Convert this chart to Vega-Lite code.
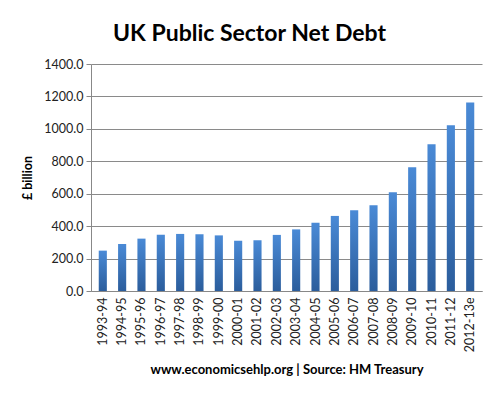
{
  "$schema": "https://vega.github.io/schema/vega-lite/v6.json",
  "width": 391,
  "height": 227,
  "autosize": {"type": "none"},
  "padding": {"left": 91, "top": 64, "right": 18, "bottom": 104},
  "background": "white",
  "title": {
    "text": "UK Public Sector Net Debt",
    "font": "Lato",
    "fontSize": 23,
    "fontWeight": "bold",
    "color": "#000000",
    "anchor": "middle",
    "dx": -37,
    "offset": 12
  },
  "data": {
    "values": [
      {"year": "1993-94", "debt": 249},
      {"year": "1994-95", "debt": 290},
      {"year": "1995-96", "debt": 323},
      {"year": "1996-97", "debt": 347},
      {"year": "1997-98", "debt": 352},
      {"year": "1998-99", "debt": 350},
      {"year": "1999-00", "debt": 343},
      {"year": "2000-01", "debt": 310},
      {"year": "2001-02", "debt": 313},
      {"year": "2002-03", "debt": 346},
      {"year": "2003-04", "debt": 380},
      {"year": "2004-05", "debt": 421},
      {"year": "2005-06", "debt": 463},
      {"year": "2006-07", "debt": 498},
      {"year": "2007-08", "debt": 529},
      {"year": "2008-09", "debt": 609},
      {"year": "2009-10", "debt": 763},
      {"year": "2010-11", "debt": 905},
      {"year": "2011-12", "debt": 1022},
      {"year": "2012-13e", "debt": 1162}
    ]
  },
  "mark": {
    "type": "bar",
    "color": {
      "gradient": "linear",
      "x1": 0, "y1": 0, "x2": 0, "y2": 1,
      "stops": [
        {"offset": 0, "color": "#4a8ad6"},
        {"offset": 1, "color": "#2b5d9c"}
      ]
    }
  },
  "encoding": {
    "x": {
      "field": "year",
      "type": "nominal",
      "sort": null,
      "scale": {"paddingInner": 0.58, "paddingOuter": 0.4},
      "axis": {
        "title": "www.economicsehlp.org | Source: HM Treasury",
        "titleFont": "Lato",
        "titleFontSize": 13,
        "titleFontWeight": "bold",
        "titleColor": "#000000",
        "titlePadding": 12,
        "labelAngle": -90,
        "labelFont": "Lato",
        "labelFontSize": 12.5,
        "labelColor": "#222222",
        "labelPadding": 6,
        "ticks": false,
        "domainColor": "#888888",
        "grid": false
      }
    },
    "y": {
      "field": "debt",
      "type": "quantitative",
      "scale": {"domain": [0, 1400], "nice": false},
      "axis": {
        "values": [0, 200, 400, 600, 800, 1000, 1200, 1400],
        "format": ".1f",
        "title": "£ billion",
        "titleFont": "Lato",
        "titleFontSize": 12.5,
        "titleFontWeight": "bold",
        "titleColor": "#000000",
        "titlePadding": 9,
        "labelFont": "Lato",
        "labelFontSize": 12.5,
        "labelColor": "#222222",
        "labelPadding": 3,
        "tickSize": 5,
        "tickColor": "#888888",
        "domainColor": "#888888",
        "gridColor": "#8a8a8a",
        "gridWidth": 1
      }
    }
  },
  "config": {
    "view": {"stroke": null}
  }
}
